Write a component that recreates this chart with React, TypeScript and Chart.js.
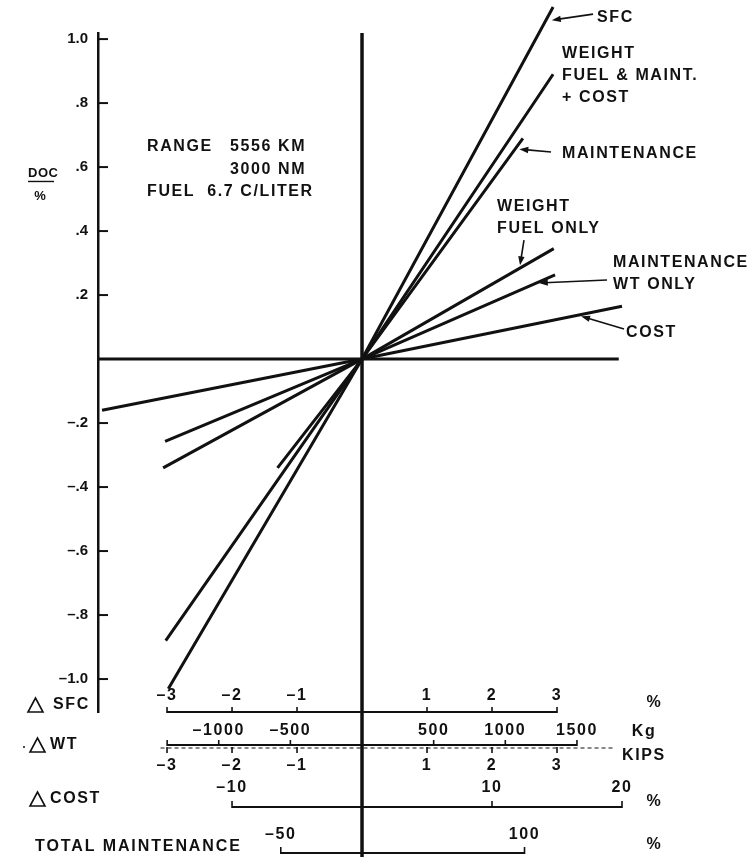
import React, { useEffect, useRef } from "react";
import { Chart, registerables } from "chart.js";

Chart.register(...registerables);

// ---- DOC change (%) against each parameter; every line passes through the origin ----
const sfcPct = [-2.98, 0, 2.94];
const sfcDoc = [-1.03, 0, 1.1];
const wtFuelMaintCostKips = [-3.02, 0, 2.94];
const wtFuelMaintCostDoc = [-0.88, 0, 0.89];
const maintPct = [-52, 0, 99];
const maintDoc = [-0.34, 0, 0.69];
const wtFuelOnlyKips = [-3.06, 0, 2.95];
const wtFuelOnlyDoc = [-0.34, 0, 0.345];
const maintWtOnlyKips = [-3.03, 0, 2.97];
const maintWtOnlyDoc = [-0.257, 0, 0.263];
const costPct = [-20, 0, 20];
const costDoc = [-0.16, 0, 0.165];

// ---- tick values ----
const docTicks = [1.0, 0.8, 0.6, 0.4, 0.2, -0.2, -0.4, -0.6, -0.8, -1.0];
const sfcTicks = [-3, -2, -1, 1, 2, 3];
const kgTicks = [-1000, -500, 500, 1000, 1500];
const kipsTicks = [-3, -2, -1, 1, 2, 3];
const costTicks = [-10, 10, 20];
const maintTicks = [-50, 100];

// ---- extent of each bottom scale bar ----
const sfcBar = [-3, 3];
const kgBar = [-1360, 1500];
const kipsBar = [-3.1, 3.9];
const costBar = [-10, 20];
const maintBar = [-50, 100];
const zeroLineEnd = 3.95;

// ---- scale relations (one main unit = 1 % SFC = 1 kip) ----
const KG_PER_KIP = 453.6;
const COST_PCT_PER_UNIT = 5;
const MAINT_PCT_PER_UNIT = 40;
const X_MIN = -4.062;
const X_MAX = 5.8;
const Y_MIN = -1.103;
const Y_MAX = 1.019;

const INK = "#111";
const FAMILY = "'Liberation Sans', Arial, sans-serif";
const FONT = `bold 16px ${FAMILY}`;

const pts = (xs: number[], ys: number[]) => xs.map((v, i) => ({ x: v, y: ys[i] }));
const dash = (v: number) => (v < 0 ? "\u2013" + Math.abs(v) : String(v));
const fmtDoc = (v: number) => {
  const a = Math.abs(v);
  const s = a >= 1 ? a.toFixed(1) : a.toFixed(1).slice(1);
  return (v < 0 ? "\u2013" : "") + s;
};

function seg(ctx: CanvasRenderingContext2D, x1: number, y1: number, x2: number, y2: number, w: number) {
  ctx.lineWidth = w;
  ctx.beginPath();
  ctx.moveTo(x1, y1);
  ctx.lineTo(x2, y2);
  ctx.stroke();
}

function text(
  ctx: CanvasRenderingContext2D,
  s: string,
  x: number,
  y: number,
  align: CanvasTextAlign = "left",
  font = FONT,
  spacing = "1.6px"
) {
  ctx.font = font;
  (ctx as any).letterSpacing = spacing;
  ctx.textAlign = align;
  ctx.textBaseline = "middle";
  ctx.fillText(s, x, y);
  (ctx as any).letterSpacing = "0px";
}

function arrow(ctx: CanvasRenderingContext2D, x1: number, y1: number, x2: number, y2: number) {
  const a = Math.atan2(y2 - y1, x2 - x1);
  const len = 9;
  const hw = 3.2;
  seg(ctx, x1, y1, x2 - Math.cos(a) * len * 0.6, y2 - Math.sin(a) * len * 0.6, 1.6);
  ctx.beginPath();
  ctx.moveTo(x2, y2);
  ctx.lineTo(x2 - Math.cos(a) * len + Math.sin(a) * hw, y2 - Math.sin(a) * len - Math.cos(a) * hw);
  ctx.lineTo(x2 - Math.cos(a) * len - Math.sin(a) * hw, y2 - Math.sin(a) * len + Math.cos(a) * hw);
  ctx.closePath();
  ctx.fill();
}

function delta(ctx: CanvasRenderingContext2D, left: number, cy: number) {
  ctx.lineWidth = 1.6;
  ctx.beginPath();
  ctx.moveTo(left, cy + 7);
  ctx.lineTo(left + 15, cy + 7);
  ctx.lineTo(left + 7.5, cy - 7);
  ctx.closePath();
  ctx.stroke();
}

// Line labels: first-line position in chart units, lines of text, arrow tail/head in chart units
const callouts = [
  { x: 3.615, y: 1.066, lines: ["SFC"], arrow: [3.554, 1.078, 2.92, 1.059] },
  { x: 3.077, y: 0.955, lines: ["WEIGHT", "FUEL & MAINT.", "+ COST"], arrow: null },
  { x: 3.077, y: 0.641, lines: ["MAINTENANCE"], arrow: [2.908, 0.647, 2.42, 0.656] },
  { x: 2.077, y: 0.475, lines: ["WEIGHT", "FUEL ONLY"], arrow: [2.492, 0.372, 2.431, 0.293] },
  { x: 3.862, y: 0.303, lines: ["MAINTENANCE", "WT ONLY"], arrow: [3.769, 0.247, 2.72, 0.238] },
  { x: 4.062, y: 0.084, lines: ["COST"], arrow: [4.031, 0.094, 3.37, 0.134] },
];

const overlay = {
  id: "overlay",
  afterDraw(chart: any) {
    const ctx: CanvasRenderingContext2D = chart.ctx;
    const { x, xKg, xCost, xMaint, y } = chart.scales;
    const area = chart.chartArea;
    const X = (v: number) => x.getPixelForValue(v);
    const Y = (v: number) => y.getPixelForValue(v);
    ctx.save();
    ctx.strokeStyle = INK;
    ctx.fillStyle = INK;
    ctx.lineCap = "butt";

    // inward ticks on the DOC axis
    docTicks.forEach((v) => seg(ctx, area.left, Y(v), area.left + 10, Y(v), 2));

    // zero line and the central vertical line
    seg(ctx, area.left, Y(0), X(zeroLineEnd), Y(0), 3);
    seg(ctx, X(0), area.top, X(0), chart.height, 3.5);

    const base = area.bottom;

    // ΔSFC scale
    const ySfc = base;
    seg(ctx, X(sfcBar[0]), ySfc, X(sfcBar[1]), ySfc, 2);
    sfcTicks.forEach((v) => {
      seg(ctx, X(v), ySfc + 1, X(v), ySfc - 5, 1.6);
      text(ctx, dash(v), X(v), ySfc - 16, "center");
    });

    // ΔWT scale: kilograms above, kips below (dashed)
    const yKg = base + 33;
    const kp = (v: number) => xKg.getPixelForValue(v);
    seg(ctx, kp(kgBar[0]), yKg, kp(kgBar[1]), yKg, 2);
    seg(ctx, kp(kgBar[0]), yKg + 1, kp(kgBar[0]), yKg - 5, 1.6);
    kgTicks.forEach((v) => {
      seg(ctx, kp(v), yKg + 1, kp(v), yKg - 5, 1.6);
      text(ctx, dash(v), kp(v), yKg - 14, "center");
    });
    const yKips = base + 36;
    ctx.setLineDash([4, 3]);
    seg(ctx, X(kipsBar[0]), yKips, X(kipsBar[1]), yKips, 1.2);
    ctx.setLineDash([]);
    kipsTicks.forEach((v) => {
      seg(ctx, X(v), yKips - 1, X(v), yKips + 5, 1.6);
      text(ctx, dash(v), X(v), yKips + 18, "center");
    });

    // ΔCOST scale
    const yCost = base + 95;
    const cp = (v: number) => xCost.getPixelForValue(v);
    seg(ctx, cp(costBar[0]), yCost, cp(costBar[1]), yCost, 2);
    costTicks.forEach((v) => {
      seg(ctx, cp(v), yCost + 1, cp(v), yCost - 6, 1.6);
      text(ctx, dash(v), cp(v), yCost - 19, "center");
    });

    // total maintenance scale
    const yMaint = base + 141;
    const mp = (v: number) => xMaint.getPixelForValue(v);
    seg(ctx, mp(maintBar[0]), yMaint, mp(maintBar[1]), yMaint, 2);
    maintTicks.forEach((v) => {
      seg(ctx, mp(v), yMaint + 1, mp(v), yMaint - 6, 1.6);
      text(ctx, dash(v), mp(v), yMaint - 18, "center");
    });

    // unit labels
    text(ctx, "%", X(4.5), base - 9, "center");
    text(ctx, "Kg", X(4.34), base + 20, "center");
    text(ctx, "KIPS", X(4.0), base + 44, "left");
    text(ctx, "%", X(4.5), base + 90, "center");
    text(ctx, "%", X(4.5), base + 133, "center");

    // scale names on the left
    const lx = 28;
    delta(ctx, lx, base - 7);
    text(ctx, "SFC", lx + 25, base - 7);
    ctx.beginPath();
    ctx.arc(lx - 4, base + 35, 1, 0, Math.PI * 2);
    ctx.fill();
    delta(ctx, lx + 2, base + 33);
    text(ctx, "WT", lx + 22, base + 33);
    delta(ctx, lx + 2, base + 87);
    text(ctx, "COST", lx + 22, base + 87);
    text(ctx, "TOTAL MAINTENANCE", lx + 7, base + 135, "left", FONT, "1.9px");

    // DOC axis title
    text(ctx, "DOC", 28, Y(0.58), "left", `bold 13px ${FAMILY}`, "0.5px");
    seg(ctx, 28, Y(0.58) + 8, 54, Y(0.58) + 8, 1.4);
    text(ctx, "%", 40, Y(0.508), "center", `bold 13px ${FAMILY}`, "0px");

    // flight conditions
    text(ctx, "RANGE", X(-3.308), Y(0.6625));
    text(ctx, "5556 KM", X(-2.031), Y(0.6625));
    text(ctx, "3000 NM", X(-2.031), Y(0.591));
    text(ctx, "FUEL  6.7 C/LITER", X(-3.308), Y(0.522));

    // line callouts
    callouts.forEach((c) => {
      c.lines.forEach((s, i) => text(ctx, s, X(c.x), Y(c.y) + i * 22));
      if (c.arrow) arrow(ctx, X(c.arrow[0]), Y(c.arrow[1]), X(c.arrow[2]), Y(c.arrow[3]));
    });

    ctx.restore();
  },
};

export default function App() {
  const ref = useRef<HTMLCanvasElement | null>(null);

  useEffect(() => {
    if (!ref.current) return;
    const lineStyle = {
      borderColor: INK,
      borderWidth: 3,
      pointRadius: 0,
      tension: 0,
      clip: false as any,
      fill: false,
    };
    const chart = new Chart(ref.current, {
      type: "line",
      data: {
        datasets: [
          { label: "SFC", data: pts(sfcPct, sfcDoc), xAxisID: "x", ...lineStyle },
          { label: "WEIGHT FUEL & MAINT. + COST", data: pts(wtFuelMaintCostKips, wtFuelMaintCostDoc), xAxisID: "x", ...lineStyle },
          { label: "MAINTENANCE", data: pts(maintPct, maintDoc), xAxisID: "xMaint", ...lineStyle },
          { label: "WEIGHT FUEL ONLY", data: pts(wtFuelOnlyKips, wtFuelOnlyDoc), xAxisID: "x", ...lineStyle },
          { label: "MAINTENANCE WT ONLY", data: pts(maintWtOnlyKips, maintWtOnlyDoc), xAxisID: "x", ...lineStyle },
          { label: "COST", data: pts(costPct, costDoc), xAxisID: "xCost", ...lineStyle },
        ] as any,
      },
      options: {
        animation: false,
        responsive: false,
        events: [],
        layout: { padding: { left: 38, right: 15, top: 33, bottom: 145 } },
        plugins: { legend: { display: false }, tooltip: { enabled: false } },
        scales: {
          x: { type: "linear", axis: "x", min: X_MIN, max: X_MAX, display: false },
          xKg: { type: "linear", axis: "x", min: X_MIN * KG_PER_KIP, max: X_MAX * KG_PER_KIP, display: false },
          xCost: { type: "linear", axis: "x", min: X_MIN * COST_PCT_PER_UNIT, max: X_MAX * COST_PCT_PER_UNIT, display: false },
          xMaint: { type: "linear", axis: "x", min: X_MIN * MAINT_PCT_PER_UNIT, max: X_MAX * MAINT_PCT_PER_UNIT, display: false },
          y: {
            type: "linear",
            position: "left",
            min: Y_MIN,
            max: Y_MAX,
            afterFit: (s: any) => {
              s.width = 60;
            },
            afterBuildTicks: (s: any) => {
              s.ticks = docTicks.map((v) => ({ value: v }));
            },
            ticks: {
              color: INK,
              padding: 10,
              font: { family: FAMILY, size: 15, weight: "bold" },
              callback: (v: any) => fmtDoc(Number(v)),
            },
            grid: { display: true, drawOnChartArea: false, drawTicks: false },
            border: { display: true, width: 2.5, color: INK },
          },
        } as any,
      },
      plugins: [overlay],
    });
    return () => chart.destroy();
  }, []);

  return (
    <div style={{ position: "absolute", left: 0, top: 0, width: 754, height: 857, background: "#fff" }}>
      <canvas ref={ref} width={754} height={857} style={{ width: 754, height: 857, display: "block" }} />
    </div>
  );
}
